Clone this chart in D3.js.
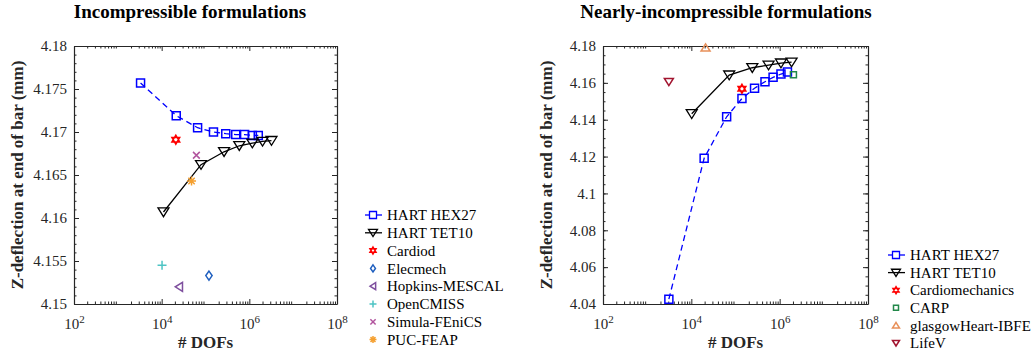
<!DOCTYPE html>
<html>
<head>
<meta charset="utf-8">
<script src="https://cdn.jsdelivr.net/npm/d3@7"></script>
<style>
  body { margin: 0; background: #fff; }
  svg { display: block; }
  text { font-family: 'Liberation Serif', 'Times New Roman', serif; }
</style>
</head>
<body>
<svg width="1036" height="358"></svg>
<script>
// Incompressible formulations
const hexDofsInc = [3300, 21500, 66000, 152000, 290000, 490000, 780000, 1170000, 1600000]
const hexZInc = [4.1757, 4.1719, 4.1705, 4.1700, 4.1698, 4.1697, 4.1697, 4.1696, 4.1696]
const tetDofsInc = [11000, 79000, 265000, 590000, 1170000, 2000000, 3200000]
const tetZInc = [4.1607, 4.1662, 4.1677, 4.1684, 4.1687, 4.1689, 4.1690]
const incNames = ['Cardiod', 'Elecmech', 'Hopkins-MESCAL', 'OpenCMISS', 'Simula-FEniCS', 'PUC-FEAP']
const incDofs = [21000, 120000, 25000, 10200, 62000, 48000]
const incZ = [4.1691, 4.1533, 4.1520, 4.1545, 4.1673, 4.1643]

// Nearly-incompressible formulations
const hexDofsNi = [3100, 19500, 63000, 140000, 270000, 465000, 710000, 1070000, 1500000]
const hexZNi = [4.0426, 4.1191, 4.1416, 4.1515, 4.1571, 4.1606, 4.1630, 4.1648, 4.1659]
const tetDofsNi = [10200, 72000, 240000, 560000, 1070000, 1860000]
const tetZNi = [4.1432, 4.1642, 4.1682, 4.1696, 4.1707, 4.1712]
const niNames = ['Cardiomechanics', 'CARP', 'glasgowHeart-IBFE', 'LifeV']
const niDofs = [140000, 2050000, 21000, 3100]
const niZ = [4.1568, 4.1644, 4.1791, 4.1606]

const xTicks = [1e2, 1e4, 1e6, 1e8]
const yTicksInc = [4.15, 4.155, 4.16, 4.165, 4.17, 4.175, 4.18]
const yTicksNi = [4.04, 4.06, 4.08, 4.1, 4.12, 4.14, 4.16, 4.18]

const serif = "'Liberation Serif', 'Times New Roman', serif"

// marker style per group
const markStyle = {
    'Cardiod': {shape: 'hexagram', color: '#ff0000'},
    'Cardiomechanics': {shape: 'hexagram', color: '#ff0000'},
    'Elecmech': {shape: 'diamond', color: '#1f5fbf'},
    'Hopkins-MESCAL': {shape: 'triLeft', color: '#7e4f9e'},
    'OpenCMISS': {shape: 'plus', color: '#4dc4c4'},
    'Simula-FEniCS': {shape: 'cross', color: '#b2559e'},
    'PUC-FEAP': {shape: 'star', color: '#f5a030'},
    'CARP': {shape: 'square', color: '#22884a'},
    'glasgowHeart-IBFE': {shape: 'triUp', color: '#e8905a'},
    'LifeV': {shape: 'triDown', color: '#a2142f'}
}

function markerPath(shape, s) {
    let p = d3.path()
    if (shape === 'square') {
        p.rect(-s, -s, 2 * s, 2 * s)
    } else if (shape === 'triDown') {
        p.moveTo(-s, -s * 0.75); p.lineTo(s, -s * 0.75); p.lineTo(0, s * 0.85); p.closePath()
    } else if (shape === 'triUp') {
        p.moveTo(-s, s * 0.75); p.lineTo(s, s * 0.75); p.lineTo(0, -s * 0.85); p.closePath()
    } else if (shape === 'triLeft') {
        p.moveTo(s * 0.75, -s); p.lineTo(s * 0.75, s); p.lineTo(-s * 0.85, 0); p.closePath()
    } else if (shape === 'diamond') {
        p.moveTo(0, -s); p.lineTo(s * 0.7, 0); p.lineTo(0, s); p.lineTo(-s * 0.7, 0); p.closePath()
    } else if (shape === 'plus') {
        p.moveTo(-s, 0); p.lineTo(s, 0); p.moveTo(0, -s); p.lineTo(0, s)
    } else if (shape === 'cross') {
        let k = s * 0.75
        p.moveTo(-k, -k); p.lineTo(k, k); p.moveTo(-k, k); p.lineTo(k, -k)
    } else if (shape === 'star') {
        for (let i = 0; i < 4; i++) {
            let a = i * Math.PI / 4
            p.moveTo(-s * Math.cos(a), -s * Math.sin(a)); p.lineTo(s * Math.cos(a), s * Math.sin(a))
        }
    } else if (shape === 'hexagram') {
        for (let t = 0; t < 2; t++) {
            for (let i = 0; i < 3; i++) {
                let a = -Math.PI / 2 + t * Math.PI + i * 2 * Math.PI / 3
                if (i === 0) p.moveTo(s * Math.cos(a), s * Math.sin(a))
                else p.lineTo(s * Math.cos(a), s * Math.sin(a))
            }
            p.closePath()
        }
    }
    return p.toString()
}

const svg = d3.select('svg')

function drawPanel(cfg) {
    let x = d3.scaleLog().domain([1e2, 1e8]).range([cfg.x0, cfg.x1])
    let y = d3.scaleLinear().domain(cfg.yDomain).range([cfg.y1, cfg.y0])
    let g = svg.append('g')

    let minorX = []
    for (let e = 2; e < 8; e++) {
        for (let m = 2; m < 10; m++) minorX.push(m * Math.pow(10, e))
    }
    let minorY = d3.range(cfg.yDomain[0], cfg.yDomain[1] + 1e-9, cfg.yMinor)

    // box axes, ticks inward on all four sides
    let defs = [
        [d3.axisBottom, cfg.y1, 'x', true],
        [d3.axisTop, cfg.y0, 'x', false],
        [d3.axisLeft, cfg.x0, 'y', true],
        [d3.axisRight, cfg.x1, 'y', false]
    ]
    defs.forEach(([orient, pos, dim, labelled]) => {
        let sc = dim === 'x' ? x : y
        let tr = dim === 'x' ? `translate(0,${pos})` : `translate(${pos},0)`
        let minor = g.append('g').attr('transform', tr)
            .call(orient(sc).tickValues(dim === 'x' ? minorX : minorY).tickSize(-2.5).tickFormat(''))
        minor.select('.domain').remove()
        let major = g.append('g').attr('transform', tr)
            .call(orient(sc)
                .tickValues(dim === 'x' ? xTicks : cfg.yTicks)
                .tickSizeInner(-5).tickSizeOuter(0).tickPadding(7)
                .tickFormat(labelled ? (dim === 'x' ? () => '' : d => String(+d.toFixed(3))) : ''))
        major.attr('font-family', serif)
        major.selectAll('text')
            .attr('font-size', 15)
            .attr('fill', '#262626')
            .attr('font-family', serif)
        if (labelled && dim === 'x') {
            major.selectAll('.tick text').each(function (d) {
                let t = d3.select(this).attr('dy', null).attr('y', 25)
                t.append('tspan').text('10')
                t.append('tspan').attr('dy', -6).attr('font-size', 11).text(Math.round(Math.log10(d)))
            })
        }
    })
    g.selectAll('.domain').attr('stroke', '#262626').attr('stroke-width', 1.2)
    g.selectAll('.tick line').attr('stroke', '#262626').attr('stroke-width', 1)

    // lines
    let line = d3.line().x(d => x(d[0])).y(d => y(d[1]))
    let hex = d3.zip(cfg.hexDofs, cfg.hexZ)
    let tet = d3.zip(cfg.tetDofs, cfg.tetZ)
    g.append('path').datum(hex).attr('d', line)
        .attr('fill', 'none').attr('stroke', '#0000ff').attr('stroke-width', 1.3)
        .attr('stroke-dasharray', '6,4')
    g.append('path').datum(tet).attr('d', line)
        .attr('fill', 'none').attr('stroke', '#000').attr('stroke-width', 1.3)
    g.selectAll('.hexm').data(hex).enter().append('path')
        .attr('transform', d => `translate(${x(d[0])},${y(d[1])})`)
        .attr('d', markerPath('square', 4))
        .attr('fill', 'none').attr('stroke', '#0000ff').attr('stroke-width', 1.5)
    g.selectAll('.tetm').data(tet).enter().append('path')
        .attr('transform', d => `translate(${x(d[0])},${y(d[1])})`)
        .attr('d', markerPath('triDown', 5.5))
        .attr('fill', 'none').attr('stroke', '#000').attr('stroke-width', 1.3)

    // other groups
    cfg.names.forEach((n, i) => {
        let st = markStyle[n]
        g.append('path')
            .attr('transform', `translate(${x(cfg.dofs[i])},${y(cfg.z[i])})`)
            .attr('d', markerPath(st.shape, st.shape === 'square' ? 3 : 4.5))
            .attr('fill', 'none').attr('stroke', st.color).attr('stroke-width', 1.5)
    })

    // titles and labels
    g.append('text').attr('x', cfg.titleX).attr('y', 18).attr('text-anchor', 'middle')
        .attr('font-family', serif)
        .attr('font-size', 19).attr('font-weight', 'bold').attr('fill', '#000').text(cfg.title)
    g.append('text').attr('x', (cfg.x0 + cfg.x1) / 2).attr('y', 348).attr('text-anchor', 'middle')
        .attr('font-family', serif)
        .attr('font-size', 17).attr('font-weight', 'bold').attr('fill', '#262626').text('# DOFs')
    g.append('text')
        .attr('transform', `translate(${cfg.x0 - 51},${(cfg.y0 + cfg.y1) / 2}) rotate(-90)`)
        .attr('text-anchor', 'middle').attr('font-family', serif)
        .attr('font-size', 17).attr('font-weight', 'bold').attr('fill', '#262626')
        .text('Z-deflection at end of bar (mm)')

    // legend
    let lg = g.append('g')
    let entries = ['HART HEX27', 'HART TET10'].concat(cfg.names)
    entries.forEach((n, i) => {
        let cy = cfg.legY + i * cfg.legStep
        let mx = cfg.legX
        if (i < 2) {
            lg.append('line').attr('x1', mx - 8).attr('x2', mx + 9).attr('y1', cy).attr('y2', cy)
                .attr('stroke', i === 0 ? '#0000ff' : '#000').attr('stroke-width', 1.3)
            lg.append('path').attr('transform', `translate(${mx},${cy})`)
                .attr('d', i === 0 ? markerPath('square', 3.5) : markerPath('triDown', 4.5))
                .attr('fill', i === 0 ? '#fff' : 'none')
                .attr('stroke', i === 0 ? '#0000ff' : '#000').attr('stroke-width', 1.3)
        } else {
            let st = markStyle[n]
            lg.append('path').attr('transform', `translate(${mx},${cy})`)
                .attr('d', markerPath(st.shape, st.shape === 'square' ? 2.5 : 3.5))
                .attr('fill', 'none').attr('stroke', st.color).attr('stroke-width', 1.5)
        }
        lg.append('text').attr('x', mx + 14).attr('y', cy).attr('dy', '0.35em')
            .attr('font-family', serif)
            .attr('font-size', 15).attr('fill', '#000').text(n)
    })
}

drawPanel({
    x0: 74, x1: 337, y0: 46, y1: 304,
    yDomain: [4.15, 4.18], yTicks: yTicksInc, yMinor: 0.001,
    hexDofs: hexDofsInc, hexZ: hexZInc, tetDofs: tetDofsInc, tetZ: tetZInc,
    names: incNames, dofs: incDofs, z: incZ,
    title: 'Incompressible formulations', titleX: 190,
    legX: 373, legY: 215, legStep: 17.8
})

drawPanel({
    x0: 603, x1: 868, y0: 46, y1: 304,
    yDomain: [4.04, 4.18], yTicks: yTicksNi, yMinor: 0.005,
    hexDofs: hexDofsNi, hexZ: hexZNi, tetDofs: tetDofsNi, tetZ: tetZNi,
    names: niNames, dofs: niDofs, z: niZ,
    title: 'Nearly-incompressible formulations', titleX: 726,
    legX: 896, legY: 255, legStep: 17.6
})
</script>
</body>
</html>
